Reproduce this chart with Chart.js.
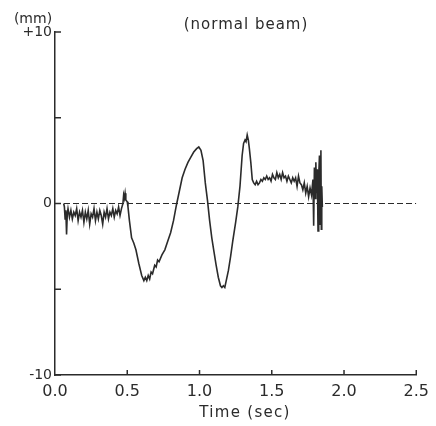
<!DOCTYPE html>
<html>
<head>
<meta charset="utf-8">
<script src="https://cdn.jsdelivr.net/npm/chart.js@4"></script>
<style>
html,body{margin:0;padding:0;background:#fff;}
#wrap{width:436px;height:426px;}
</style>
</head>
<body>
<div id="wrap"><canvas id="c" width="436" height="426"></canvas></div>
<script>
// ---- data ----
const timeSec = [0.060,0.065,0.070,0.075,0.080,0.085,0.090,0.100,0.110,0.120,0.130,0.140,0.150,0.160,0.170,0.180,0.190,0.200,0.210,0.220,0.230,0.240,0.250,0.260,0.270,0.280,0.290,0.300,0.310,0.320,0.330,0.340,0.350,0.360,0.370,0.380,0.390,0.400,0.410,0.420,0.430,0.440,0.450,0.460,0.470,0.475,0.480,0.485,0.490,0.500,0.505,0.515,0.530,0.545,0.560,0.580,0.600,0.615,0.625,0.635,0.645,0.655,0.665,0.675,0.690,0.700,0.710,0.720,0.740,0.760,0.780,0.800,0.820,0.840,0.860,0.880,0.900,0.920,0.940,0.960,0.980,0.995,1.010,1.025,1.040,1.055,1.070,1.085,1.100,1.115,1.130,1.145,1.155,1.165,1.175,1.185,1.200,1.215,1.230,1.250,1.265,1.280,1.295,1.305,1.315,1.322,1.330,1.338,1.345,1.355,1.365,1.375,1.385,1.395,1.405,1.415,1.425,1.435,1.445,1.455,1.465,1.475,1.485,1.495,1.505,1.515,1.525,1.535,1.545,1.555,1.565,1.575,1.585,1.595,1.605,1.615,1.625,1.635,1.645,1.655,1.665,1.675,1.685,1.695,1.705,1.715,1.725,1.735,1.745,1.755,1.765,1.775,1.785,1.790,1.795,1.800,1.805,1.810,1.815,1.820,1.825,1.830,1.835,1.840,1.843,1.846,1.850];
const dispMm = [0.0,-0.2,-0.9,-0.4,-1.8,-0.6,-0.3,-0.8,-0.4,-0.9,-0.5,-0.7,-0.3,-1.0,-0.5,-0.8,-0.4,-1.1,-0.5,-0.9,-0.4,-1.2,-0.6,-0.8,-0.3,-1.0,-0.5,-0.9,-0.4,-0.7,-1.2,-0.5,-0.8,-0.3,-0.9,-0.5,-0.7,-0.3,-0.8,-0.4,-0.6,-0.2,-0.7,-0.3,0.0,0.5,0.3,0.6,0.2,0.1,-0.2,-1.0,-2.0,-2.3,-2.7,-3.5,-4.2,-4.5,-4.3,-4.5,-4.2,-4.4,-4.0,-4.1,-3.6,-3.7,-3.3,-3.4,-3.0,-2.7,-2.2,-1.7,-1.0,-0.1,0.7,1.5,2.0,2.4,2.7,3.0,3.2,3.3,3.1,2.5,1.2,0.2,-1.0,-2.0,-2.8,-3.6,-4.3,-4.8,-4.9,-4.8,-4.9,-4.5,-3.9,-3.1,-2.2,-1.1,-0.2,1.0,2.8,3.5,3.7,3.6,4.0,3.7,3.2,2.4,1.4,1.2,1.1,1.3,1.1,1.2,1.4,1.3,1.5,1.4,1.6,1.4,1.5,1.3,1.7,1.5,1.4,1.8,1.5,1.7,1.4,1.8,1.5,1.6,1.3,1.6,1.4,1.2,1.5,1.3,1.5,1.0,1.6,1.2,1.1,0.8,1.2,0.6,1.0,0.4,0.9,0.5,1.4,-1.3,2.1,0.3,2.4,0.6,2.0,-1.6,1.6,2.8,-1.2,3.1,-1.5,1.0,-0.2];
const zeroLineX = [0, 2.5];
const zeroLineY = [0, 0];
const xTickValues = [0, 0.5, 1.0, 1.5, 2.0, 2.5];
const yTickValues = [-10, -5, 0, 5, 10];
const yTickLabels = {"10": "+10", "0": "0", "-10": "-10"};
const titleText = "(normal beam)";
const yUnitText = "(mm)";
const xTitleText = "Time (sec)";

const ink = '#2b2b2b';
const trace = timeSec.map((t, i) => ({x: t, y: dispMm[i]}));
const zero = zeroLineX.map((t, i) => ({x: t, y: zeroLineY[i]}));

const decor = {
  id: 'decor',
  afterDraw(chart) {
    const {ctx, scales: {x, y}} = chart;
    ctx.save();
    ctx.strokeStyle = ink;
    ctx.lineWidth = 1.5;
    xTickValues.forEach(v => {
      if (v === 0) return;
      const px = x.getPixelForValue(v);
      ctx.beginPath(); ctx.moveTo(px, y.bottom); ctx.lineTo(px, y.bottom - 5); ctx.stroke();
    });
    yTickValues.forEach(v => {
      const py = y.getPixelForValue(v);
      ctx.beginPath(); ctx.moveTo(x.left, py); ctx.lineTo(x.left + 6, py); ctx.stroke();
    });
    ctx.fillStyle = ink;
    ctx.textBaseline = 'middle';
    ctx.textAlign = 'center';
    ctx.font = '15px "DejaVu Sans"';
    try { ctx.letterSpacing = '1px'; } catch (e) {}
    ctx.fillText(titleText, 246, 25);
    ctx.font = '14px "DejaVu Sans"';
    try { ctx.letterSpacing = '0px'; } catch (e) {}
    ctx.fillText(yUnitText, 33, 19);
    ctx.font = '15px "DejaVu Sans"';
    try { ctx.letterSpacing = '1.3px'; } catch (e) {}
    ctx.fillText(xTitleText, 245, 413);
    ctx.restore();
  }
};

new Chart(document.getElementById('c'), {
  type: 'scatter',
  data: {
    datasets: [
      {data: zero, showLine: true, borderColor: ink, borderWidth: 1.2, borderDash: [6, 3], pointRadius: 0, tension: 0},
      {data: trace, showLine: true, borderColor: ink, borderWidth: 1.6, pointRadius: 0, tension: 0}
    ]
  },
  options: {
    responsive: false,
    animation: false,
    layout: {padding: {left: 0, top: 32, right: 18, bottom: 0}},
    plugins: {legend: {display: false}, tooltip: {enabled: false}, title: {display: false}},
    scales: {
      x: {
        type: 'linear', min: 0, max: 2.5,
        afterFit: s => { s.height = 51; },
        afterBuildTicks: s => { s.ticks = xTickValues.map(v => ({value: v})); },
        ticks: {color: ink, font: {family: 'DejaVu Sans', size: 16}, padding: 7, maxRotation: 0,
          callback: v => Number(v).toFixed(1)},
        grid: {display: false, drawTicks: false},
        border: {display: true, color: ink, width: 1.5}
      },
      y: {
        type: 'linear', min: -10, max: 10,
        afterFit: s => { s.width = 55; },
        afterBuildTicks: s => { s.ticks = yTickValues.map(v => ({value: v})); },
        ticks: {color: ink, font: {family: 'DejaVu Sans', size: 14}, padding: 3,
          callback: v => (yTickLabels[String(v)] !== undefined ? yTickLabels[String(v)] : '')},
        grid: {display: false, drawTicks: false},
        border: {display: true, color: ink, width: 1.5}
      }
    }
  },
  plugins: [decor]
});
</script>
</body>
</html>
